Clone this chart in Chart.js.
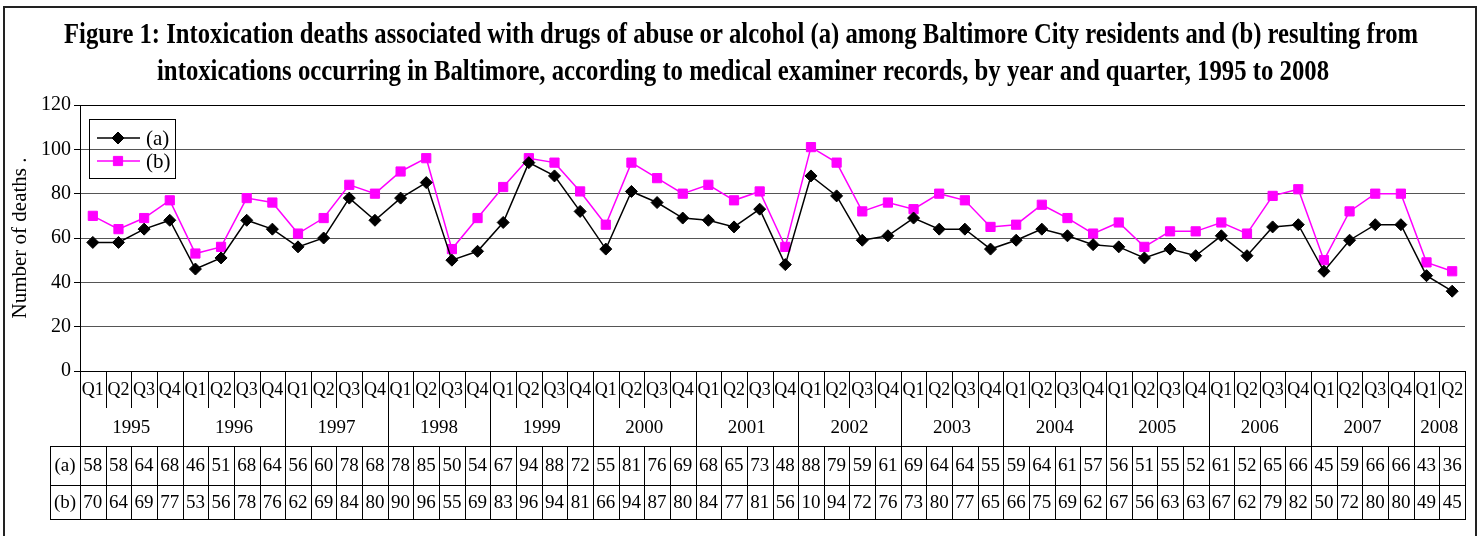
<!DOCTYPE html>
<html>
<head>
<meta charset="utf-8">
<title>Intoxication deaths, Baltimore</title>
<script src="https://cdn.jsdelivr.net/npm/chart.js@4"></script>
<style>
  html, body { margin: 0; padding: 0; background: #fff; }
  #wrap { width: 1482px; height: 536px; position: relative; }
</style>
</head>
<body>
<div id="wrap"><canvas id="deathsChart" width="1482" height="536"></canvas></div>
<script>
// data
const years = ['1995', '1996', '1997', '1998', '1999', '2000', '2001', '2002', '2003', '2004', '2005', '2006', '2007', '2008'];
const quarterNames = ['Q1', 'Q2', 'Q3', 'Q4'];
const seriesA = [58, 58, 64, 68, 46, 51, 68, 64, 56, 60, 78, 68, 78, 85, 50, 54, 67, 94, 88, 72,
                 55, 81, 76, 69, 68, 65, 73, 48, 88, 79, 59, 61, 69, 64, 64, 55, 59, 64, 61, 57,
                 56, 51, 55, 52, 61, 52, 65, 66, 45, 59, 66, 66, 43, 36];
const seriesB = [70, 64, 69, 77, 53, 56, 78, 76, 62, 69, 84, 80, 90, 96, 55, 69, 83, 96, 94, 81,
                 66, 94, 87, 80, 84, 77, 81, 56, 101, 94, 72, 76, 73, 80, 77, 65, 66, 75, 69, 62,
                 67, 56, 63, 63, 67, 62, 79, 82, 50, 72, 80, 80, 49, 45];
const yTicks = [0, 20, 40, 60, 80, 100, 120];
const titleLines = [
  'Figure 1: Intoxication deaths associated with drugs of abuse or alcohol (a) among Baltimore City residents and (b) resulting from',
  'intoxications occurring in Baltimore, according to medical examiner records, by year and quarter, 1995 to 2008'
];

// one category per quarter (2008 only has Q1, Q2)
const categories = [];
years.forEach(y => quarterNames.forEach(q => categories.push(y + ' ' + q)));
categories.length = seriesA.length;

const SERIF = '"Liberation Serif", "Times New Roman", serif';

// the original table cell only fits two digits, so 101 shows as "10"
const cellText = v => String(v).slice(0, 2);

// frame, title, legend and the data table under the axis
const figurePlugin = {
  id: 'figure',
  beforeDraw(chart) {
    const ctx = chart.ctx;
    ctx.save();
    ctx.fillStyle = '#fff';
    ctx.fillRect(0, 0, chart.width, chart.height);
    ctx.restore();
  },
  afterDraw(chart) {
    const ctx = chart.ctx;
    const xs = chart.scales.x;
    const area = chart.chartArea;
    ctx.save();

    // outer frame
    ctx.strokeStyle = '#222';
    ctx.lineWidth = 2;
    ctx.beginPath();
    ctx.moveTo(4, 540); ctx.lineTo(4, 7); ctx.lineTo(1476, 7); ctx.lineTo(1476, 540);
    ctx.stroke();

    // title, squeezed like the original
    ctx.fillStyle = '#000';
    ctx.font = 'bold 29px ' + SERIF;
    ctx.textBaseline = 'alphabetic';
    const spans = [[64, 1418, 43], [157, 1329, 80]];
    titleLines.forEach((t, i) => {
      const [x0, x1, base] = spans[i];
      const w = ctx.measureText(t).width;
      ctx.save();
      ctx.translate(x0, base);
      ctx.scale((x1 - x0) / w, 1);
      ctx.textAlign = 'left';
      ctx.fillText(t, 0, 0);
      ctx.restore();
    });

    // legend
    ctx.strokeStyle = '#000';
    ctx.lineWidth = 1;
    ctx.strokeRect(89.5, 119.5, 86, 59);
    ctx.font = '21px ' + SERIF;
    ctx.textAlign = 'left';
    ctx.textBaseline = 'middle';
    chart.data.datasets.forEach((ds, i) => {
      const y = 138 + i * 23;
      ctx.strokeStyle = ds.borderColor;
      ctx.lineWidth = ds.borderWidth;
      ctx.beginPath();
      ctx.moveTo(97, y); ctx.lineTo(140, y);
      ctx.stroke();
      ctx.fillStyle = ds.pointBackgroundColor;
      ctx.strokeStyle = ds.pointBorderColor;
      ctx.lineWidth = 1;
      Chart.helpers.drawPoint(ctx, { pointStyle: ds.pointStyle, radius: ds.pointRadius, borderWidth: 1 }, 118, y);
      ctx.fillStyle = '#000';
      ctx.fillText(ds.label, 146, y + 1);
    });

    // table
    const n = categories.length;
    const step = xs.getPixelForValue(1) - xs.getPixelForValue(0);
    const edge = i => xs.getPixelForValue(0) - step / 2 + i * step;
    const top = area.bottom;
    const qBottom = top + 37, yBottom = top + 75, aBottom = top + 114, bBottom = top + 148;
    const labelLeft = 50;

    ctx.strokeStyle = '#000';
    ctx.lineWidth = 1;
    ctx.beginPath();
    for (let i = 0; i <= n; i++) {
      const x = Math.round(edge(i)) + 0.5;
      const yearEdge = i % 4 === 0 || i === n;
      ctx.moveTo(x, top);
      ctx.lineTo(x, yearEdge ? yBottom : qBottom);
      ctx.moveTo(x, yBottom);
      ctx.lineTo(x, bBottom);
    }
    ctx.moveTo(labelLeft + 0.5, yBottom); ctx.lineTo(labelLeft + 0.5, bBottom);
    [yBottom, aBottom, bBottom].forEach(y => {
      ctx.moveTo(labelLeft, y + 0.5);
      ctx.lineTo(Math.round(edge(n)) + 1, y + 0.5);
    });
    ctx.stroke();

    ctx.fillStyle = '#000';
    ctx.textAlign = 'center';
    ctx.textBaseline = 'middle';
    for (let i = 0; i < n; i++) {
      const c = xs.getPixelForValue(i);
      ctx.font = '18px ' + SERIF;
      ctx.fillText(quarterNames[i % 4], c, (top + qBottom) / 2 + 1);
      ctx.font = '19px ' + SERIF;
      ctx.fillText(cellText(seriesA[i]), c, (yBottom + aBottom) / 2 + 1);
      ctx.fillText(cellText(seriesB[i]), c, (aBottom + bBottom) / 2 + 1);
    }
    ctx.font = '19px ' + SERIF;
    years.forEach((y, j) => {
      const i0 = j * 4, i1 = Math.min(n, j * 4 + 4);
      ctx.fillText(y, (edge(i0) + edge(i1)) / 2, (qBottom + yBottom) / 2 + 1);
    });
    ctx.fillText('(a)', 65, (yBottom + aBottom) / 2 + 1);
    ctx.fillText('(b)', 65, (aBottom + bBottom) / 2 + 1);

    ctx.restore();
  }
};

new Chart(document.getElementById('deathsChart'), {
  type: 'line',
  data: {
    labels: categories,
    datasets: [{
      label: '(a)',
      data: seriesA,
      borderColor: '#000',
      borderWidth: 1.5,
      pointStyle: 'rectRot',
      pointRadius: 6,
      pointBackgroundColor: '#000',
      pointBorderColor: '#000',
      pointBorderWidth: 1,
      tension: 0
    }, {
      label: '(b)',
      data: seriesB,
      borderColor: '#ff00ff',
      borderWidth: 1.5,
      pointStyle: 'rect',
      pointRadius: 6.5,
      pointBackgroundColor: '#ff00ff',
      pointBorderColor: '#ff00ff',
      pointBorderWidth: 1,
      tension: 0
    }]
  },
  options: {
    responsive: false,
    animation: false,
    devicePixelRatio: 1,
    layout: { padding: { top: 105, bottom: 165, left: 0, right: 17 } },
    plugins: {
      legend: { display: false },
      title: { display: false },
      tooltip: { enabled: false }
    },
    scales: {
      x: {
        type: 'category',
        offset: true,
        display: false
      },
      y: {
        min: 0,
        max: 120,
        afterBuildTicks: scale => { scale.ticks = yTicks.map(v => ({ value: v })); },
        afterFit: scale => { scale.width = 80; },
        ticks: {
          color: '#000',
          padding: 3,
          font: { family: SERIF, size: 20 }
        },
        grid: {
          color: ctx => (ctx.tick && (ctx.tick.value === 120 || ctx.tick.value === 0)) ? '#000' : '#555',
          lineWidth: 1,
          tickLength: 6,
          tickColor: '#000'
        },
        border: { display: true, color: '#000', width: 1 },
        title: {
          display: true,
          text: 'Number of deaths .',
          color: '#000',
          font: { family: SERIF, size: 21 },
          padding: { top: 8, bottom: 0 }
        }
      }
    }
  },
  plugins: [figurePlugin]
});
</script>
</body>
</html>
